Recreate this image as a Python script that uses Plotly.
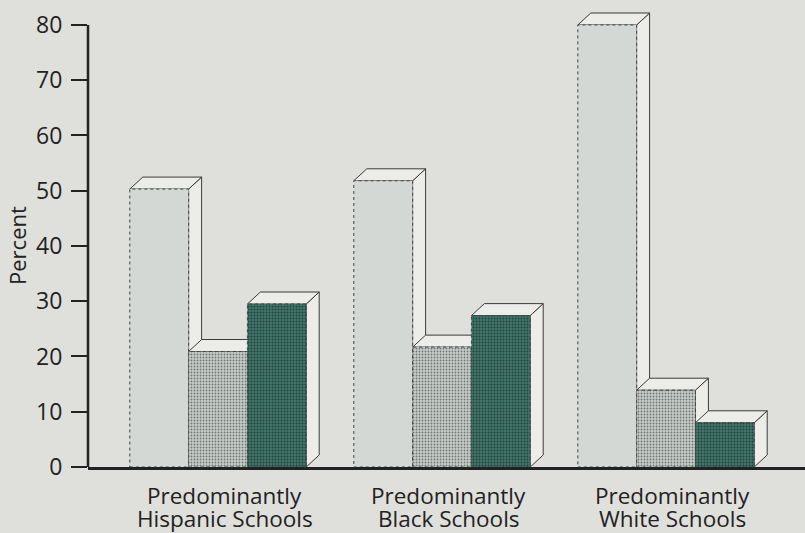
import plotly.graph_objects as go

# ---------------- data ----------------
category_line1 = ["Predominantly", "Predominantly", "Predominantly"]
category_line2 = ["Hispanic Schools", "Black Schools", "White Schools"]
series_light = [50.3, 51.8, 80.0]
series_medium = [20.9, 21.7, 13.9]
series_dark = [29.5, 27.4, 8.0]
y_tick_values = [0, 10, 20, 30, 40, 50, 60, 70, 80]
y_title = "Percent"

# ---------------- style ----------------
BG = "#dfe0dc"
INK = "#222222"
FONT = "Open Sans"
BAR_W = 0.2625          # bar width in x-axis units (group spacing = 1)
DX = 0.058              # 3D depth, x units
DY = 2.17               # 3D depth, y units
series_styles = [
    dict(front="#d4d8d5", fg=None, bg=None, top="#ecece9", side="#ecece9"),
    dict(front="#a9aeab", fg="#6f7872", bg="#c9cdca", top="#ecece9", side="#ecece9"),
    dict(front="#2f5c52", fg="#1b433a", bg="#44756a", top="#ecece9", side="#ecece9"),
]
all_series = [series_light, series_medium, series_dark]

fig = go.Figure()


def face(xs, ys, fill, outline, dash="solid", fg=None, bg=None):
    kw = dict(
        x=xs, y=ys, mode="lines", fill="toself", fillcolor=fill,
        line=dict(color=outline, width=1, dash=dash),
        hoverinfo="skip", showlegend=False,
    )
    if fg is not None:
        kw["fillpattern"] = dict(shape=".", fgcolor=fg, bgcolor=bg, size=3,
                                 solidity=0.3, fillmode="replace")
    fig.add_trace(go.Scatter(**kw))


for i in range(len(category_line1)):
    for j, (vals, st) in enumerate(zip(all_series, series_styles)):
        v = vals[i]
        xl = i + (j - 1.5) * BAR_W
        xr = xl + BAR_W
        # side face
        face([xr, xr, xr + DX, xr + DX, xr], [0, v, v + DY, DY, 0],
             st["side"], "#3a3a3a")
        # top face
        face([xl, xr, xr + DX, xl + DX, xl], [v, v, v + DY, v + DY, v],
             st["top"], "#3a3a3a")
        # front face
        face([xl, xr, xr, xl, xl], [0, 0, v, v, 0],
             st["front"], "#444444", dash="dot", fg=st["fg"], bg=st["bg"])

# category labels (two tight lines)
for i in range(len(category_line1)):
    xc = i + DX / 2
    fig.add_annotation(x=xc, xref="x", y=0, yref="paper", yanchor="top",
                       yshift=-12, text=category_line1[i], showarrow=False,
                       borderpad=0,
                       font=dict(family=FONT, size=22.5, color=INK))
    fig.add_annotation(x=xc, xref="x", y=0, yref="paper", yanchor="top",
                       yshift=-35, text=category_line2[i], showarrow=False,
                       borderpad=0,
                       font=dict(family=FONT, size=22.5, color=INK))

# y title
fig.add_annotation(x=0, xref="paper", xshift=-71, xanchor="center",
                   y=40, yref="y", yanchor="middle", text=y_title,
                   textangle=-90, showarrow=False,
                   font=dict(family=FONT, size=22, color=INK))

# y axis line (only up to 80)
fig.add_shape(type="line", xref="paper", x0=0, x1=0, yref="y",
              y0=0, y1=max(y_tick_values), line=dict(color=INK, width=2.5),
              layer="above")

fig.update_layout(
    width=805, height=533,
    margin=dict(l=88, r=0, t=11, b=66),
    paper_bgcolor=BG, plot_bgcolor=BG,
    font=dict(family=FONT, color=INK),
    xaxis=dict(range=[-0.5804, 2.6205], showgrid=False, zeroline=False,
               showticklabels=False, ticks="", showline=True,
               linecolor=INK, linewidth=2.5, fixedrange=True),
    yaxis=dict(range=[0, 82.53], showgrid=False, zeroline=False,
               showline=False, tickvals=y_tick_values, ticks="outside",
               ticklen=16, tickwidth=2, tickcolor=INK,
               ticklabelstandoff=4,
               tickfont=dict(family=FONT, size=23, color=INK),
               fixedrange=True),
)

fig.write_html("out.html")
